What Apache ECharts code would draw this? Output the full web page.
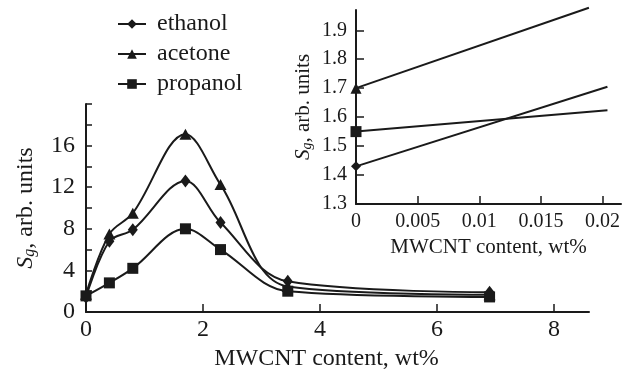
<!DOCTYPE html>
<html>
<head>
<meta charset="utf-8">
<script src="https://cdn.jsdelivr.net/npm/echarts@6/dist/echarts.min.js"></script>
<style>
  html, body { margin: 0; padding: 0; background: #fff; }
  #chart { width: 632px; height: 380px; }
</style>
</head>
<body>
<div id="chart"></div>
<script>
// main plot: sensitivity vs MWCNT content
var contentX = [0, 0.4, 0.8, 1.7, 2.3, 3.45, 6.9];
var ethanol  = [1.43, 6.8, 7.9, 12.6, 8.6, 2.95, 1.9];
var acetone  = [1.7, 7.5, 9.5, 17.1, 12.25, 2.45, 1.65];
var propanol = [1.55, 2.8, 4.2, 8.0, 6.0, 2.0, 1.45];

// inset: low content range
var insetX         = [0, 0.0204];
var ethanolInset   = [1.43, 1.705];
var acetoneInsetX  = [0, 0.0189];
var acetoneInset   = [1.7, 1.978];
var propanolInset  = [1.55, 1.624];

var ink = '#1a1a1a';
var serif = 'Liberation Serif';

function pairs(xs, ys) {
  return xs.map(function (x, i) { return [x, ys[i]]; });
}

function firstOnly(size) {
  return function (v, p) { return p.dataIndex === 0 ? size : 0; };
}

// S with italic subscript g
function sgStyle(size, subSize) {
  return {
    fontFamily: serif, fontSize: size, color: ink,
    rich: {
      s: { fontFamily: serif, fontSize: size, fontStyle: 'italic', color: ink },
      g: { fontFamily: serif, fontSize: subSize, fontStyle: 'italic', color: ink, verticalAlign: 'bottom' }
    }
  };
}

function grafico() {
  var chart = document.getElementById('chart');
  var myChart = echarts.init(chart);

  var option = {
    backgroundColor: '#fff',
    animation: false,
    legend: {
      orient: 'vertical',
      left: 112,
      top: 7,
      itemWidth: 28,
      itemHeight: 12,
      itemGap: 6,
      data: ['ethanol', 'acetone', 'propanol'],
      formatter: function (name) { return ' ' + name; },
      textStyle: { fontFamily: serif, fontSize: 24, color: ink }
    },
    grid: [
      { left: 86, right: 43, top: 104, bottom: 68 },
      { left: 356, right: 11, top: 10, bottom: 176 }
    ],
    xAxis: [
      {
        gridIndex: 0, type: 'value', min: 0, max: 8.6, interval: 2,
        name: 'MWCNT content, wt%', nameLocation: 'middle', nameGap: 33,
        nameTextStyle: { fontFamily: serif, fontSize: 24, color: ink, padding: [0, 22, 0, 0] },
        axisLine: { lineStyle: { color: ink, width: 2 } },
        axisTick: { inside: true, length: 8, lineStyle: { color: ink, width: 1.5 } },
        axisLabel: { fontFamily: serif, fontSize: 24, color: ink, margin: 6, showMaxLabel: false },
        splitLine: { show: false }
      },
      {
        gridIndex: 1, type: 'value', min: 0, max: 0.0215, interval: 0.005,
        name: 'MWCNT content, wt%', nameLocation: 'middle', nameGap: 32,
        nameTextStyle: { fontFamily: serif, fontSize: 21, color: ink },
        axisLine: { lineStyle: { color: ink, width: 2 } },
        axisTick: { inside: true, length: 8, lineStyle: { color: ink, width: 1.5 } },
        axisLabel: { fontFamily: serif, fontSize: 20, color: ink, margin: 8, showMaxLabel: false },
        splitLine: { show: false }
      }
    ],
    yAxis: [
      {
        gridIndex: 0, type: 'value', min: 0, max: 20, interval: 2,
        name: '{s|S}{g|g}, arb. units', nameLocation: 'middle', nameGap: 48, nameRotate: 90,
        nameTextStyle: sgStyle(24, 16),
        axisLine: { lineStyle: { color: ink, width: 2 } },
        axisTick: { inside: true, length: 6, lineStyle: { color: ink, width: 1.5 } },
        axisLabel: {
          fontFamily: serif, fontSize: 24, color: ink, margin: 11,
          formatter: function (v) { return (v % 4 === 0 && v < 20) ? String(v) : ''; }
        },
        splitLine: { show: false }
      },
      {
        gridIndex: 1, type: 'value', min: 1.3, max: 1.97, interval: 0.1,
        name: '{s|S}{g|g}, arb. units', nameLocation: 'middle', nameGap: 42, nameRotate: 90,
        nameTextStyle: sgStyle(21, 14),
        axisLine: { lineStyle: { color: ink, width: 2 } },
        axisTick: { inside: true, length: 8, lineStyle: { color: ink, width: 1.5 } },
        axisLabel: { fontFamily: serif, fontSize: 20, color: ink, margin: 9, showMaxLabel: false },
        splitLine: { show: false }
      }
    ],
    series: [
      {
        name: 'ethanol', type: 'line', xAxisIndex: 0, yAxisIndex: 0,
        data: pairs(contentX, ethanol), smooth: 0.35,
        symbol: 'diamond', symbolSize: [10, 13],
        lineStyle: { color: ink, width: 2 }, itemStyle: { color: ink }
      },
      {
        name: 'acetone', type: 'line', xAxisIndex: 0, yAxisIndex: 0,
        data: pairs(contentX, acetone), smooth: 0.35,
        symbol: 'triangle', symbolSize: [12, 11],
        lineStyle: { color: ink, width: 2 }, itemStyle: { color: ink }
      },
      {
        name: 'propanol', type: 'line', xAxisIndex: 0, yAxisIndex: 0,
        data: pairs(contentX, propanol), smooth: 0.35,
        symbol: 'rect', symbolSize: 11,
        lineStyle: { color: ink, width: 2 }, itemStyle: { color: ink }
      },
      {
        name: 'ethanol', type: 'line', xAxisIndex: 1, yAxisIndex: 1, clip: false,
        data: pairs(insetX, ethanolInset),
        symbol: 'diamond', symbolSize: firstOnly(10),
        lineStyle: { color: ink, width: 2 }, itemStyle: { color: ink }
      },
      {
        name: 'acetone', type: 'line', xAxisIndex: 1, yAxisIndex: 1, clip: false,
        data: pairs(acetoneInsetX, acetoneInset),
        symbol: 'triangle', symbolSize: firstOnly(11),
        lineStyle: { color: ink, width: 2 }, itemStyle: { color: ink }
      },
      {
        name: 'propanol', type: 'line', xAxisIndex: 1, yAxisIndex: 1, clip: false,
        data: pairs(insetX, propanolInset),
        symbol: 'rect', symbolSize: firstOnly(11),
        lineStyle: { color: ink, width: 2 }, itemStyle: { color: ink }
      }
    ]
  };

  myChart.setOption(option);
}

grafico();
</script>
</body>
</html>
